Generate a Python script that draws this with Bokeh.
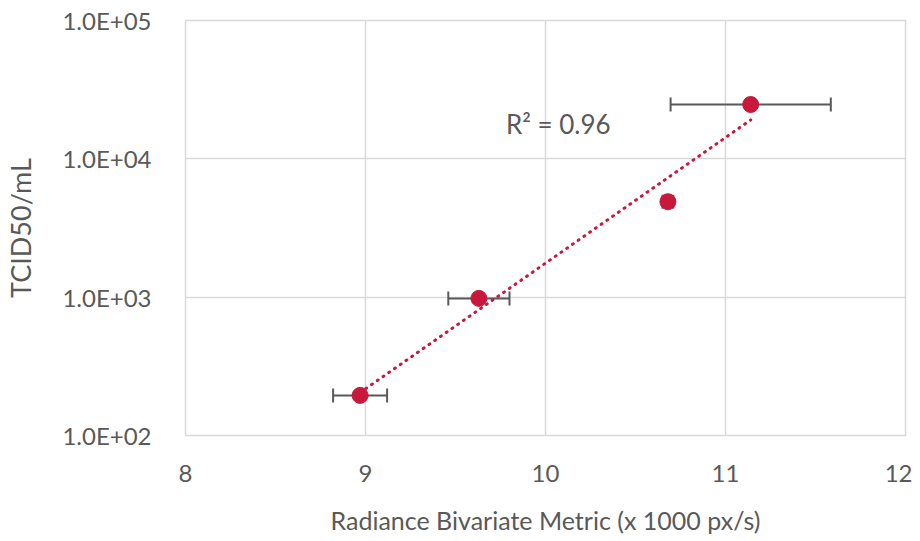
import numpy as np
from bokeh.plotting import figure
from bokeh.models import Whisker, ColumnDataSource, FixedTicker, Label, TeeHead
from bokeh.embed import file_html
from bokeh.resources import INLINE

# data
metric_x = [8.97, 9.63, 10.68, 11.14]
tcid50 = [195, 980, 4900, 24700]
x_err = [0.15, 0.17, 0.03, 0.445]
r2_text = "R² = 0.96"
x_ticks = [8, 9, 10, 11, 12]
y_ticks = [100, 1000, 10000, 100000]
y_tick_labels = ["1.0E+02", "1.0E+03", "1.0E+04", "1.0E+05"]

RED = "#C8193C"
GREY = "#595959"
GRID = "#D9D9D9"
FONT = "Lato"

p = figure(width=912, height=541, output_backend="svg", toolbar_location=None,
           x_range=(8, 12), y_range=(100, 100000), y_axis_type="log",
           min_border_left=185, min_border_right=7, min_border_top=20, min_border_bottom=106)
p.outline_line_color = GRID
p.outline_line_width = 1.5

for ax in (p.xaxis[0], p.yaxis[0]):
    ax.axis_line_color = None
    ax.major_tick_line_color = None
    ax.minor_tick_line_color = None
    ax.major_label_text_font = FONT
    ax.major_label_text_font_size = "24px"
    ax.major_label_text_color = GREY
    ax.axis_label_text_font = FONT
    ax.axis_label_text_color = GREY
    ax.axis_label_text_font_style = "normal"

p.xaxis.axis_label_text_font_size = "25px"
p.yaxis.axis_label_text_font_size = "27px"
p.xaxis.ticker = FixedTicker(ticks=x_ticks)
p.yaxis.ticker = FixedTicker(ticks=y_ticks)
p.yaxis.major_label_overrides = {t: l for t, l in zip(y_ticks, y_tick_labels)}
p.xaxis.major_label_standoff = 23
p.yaxis.major_label_standoff = 28
p.xaxis.axis_label = "Radiance Bivariate Metric (x 1000 px/s)"
p.yaxis.axis_label = "TCID50/mL"
p.xaxis.axis_label_standoff = 20
p.yaxis.axis_label_standoff = 22

p.xgrid.grid_line_color = GRID
p.ygrid.grid_line_color = GRID
p.xgrid.grid_line_width = 1.5
p.ygrid.grid_line_width = 1.5

# exponential trendline fitted on the data
coef = np.polyfit(metric_x, np.log10(tcid50), 1)
tx = np.linspace(min(metric_x), max(metric_x), 50)
ty = 10 ** np.polyval(coef, tx)
p.line(tx, ty, line_color=RED, line_width=3, line_dash="1 6", line_cap="round")

src = ColumnDataSource(dict(
    x=metric_x, y=tcid50,
    lo=[a - b for a, b in zip(metric_x, x_err)],
    hi=[a + b for a, b in zip(metric_x, x_err)],
))
w = Whisker(source=src, base="y", lower="lo", upper="hi", dimension="width",
            line_color=GREY, line_width=2,
            upper_head=TeeHead(size=14, line_color=GREY, line_width=2),
            lower_head=TeeHead(size=14, line_color=GREY, line_width=2))
p.add_layout(w)
p.scatter("x", "y", source=src, size=16, fill_color=RED, line_color=RED)

p.add_layout(Label(x=9.78, y=18000, text=r2_text, text_font=FONT, text_font_size="26px",
                   text_color=GREY, text_baseline="middle", text_align="left"))

open("out.html", "w").write(file_html(p, INLINE))
